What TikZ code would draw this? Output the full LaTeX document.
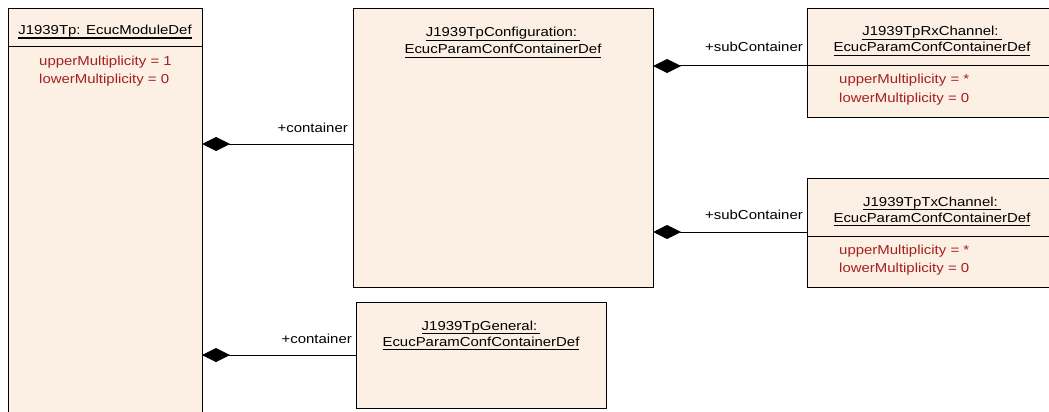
\documentclass[tikz,border=0pt]{standalone}
\usepackage{fontspec}
\setmainfont{Liberation Sans}[FakeStretch=1.15]
\usetikzlibrary{arrows.meta}
\definecolor{boxfill}{RGB}{251,240,227}
\definecolor{attr}{RGB}{165,32,32}
\newcommand\myul[1]{\setbox0\hbox{#1}\rlap{\vrule width\wd0 height -3pt depth 4pt}\box0}
\begin{document}
\begin{tikzpicture}[x=1pt,y=-1pt, font=\fontsize{13}{17}\selectfont,
  box/.style={draw, line width=1pt, fill=boxfill, anchor=north west, inner sep=0pt, outer sep=0pt},
  ttl/.style={anchor=base, inner sep=0pt},
  att/.style={anchor=base west, inner sep=0pt, text=attr},
  role/.style={anchor=base east, inner sep=0pt},
  sep/.style={line width=1pt},
  comp/.style={line width=1pt, {Diamond[length=28pt,width=14pt]}-}]
\useasboundingbox (0,0) rectangle (1049,412);
% boxes
\node[box, minimum width=194pt, minimum height=430pt] (mod) at (8,9) {};
\node[box, minimum width=300pt, minimum height=278pt] (cfg) at (353,9) {};
\node[box, minimum width=250pt, minimum height=108pt] (rx) at (807,9) {};
\node[box, minimum width=250pt, minimum height=109pt] (tx) at (807,178) {};
\node[box, minimum width=250pt, minimum height=106pt] (gen) at (356,302) {};
% compartments
\draw[sep] (mod.west |- 0,47) -- (mod.east |- 0,47);
\draw[sep] (rx.west |- 0,66) -- (rx.east |- 0,66);
\draw[sep] (tx.west |- 0,236) -- (tx.east |- 0,236);
% texts
\node[ttl] (modt) at (105,34.5) {\myul{J1939Tp: EcucModuleDef}};
\node[att] (moda1) at (39,66) {upperMultiplicity = 1};
\node[att] (moda2) at (39,83) {lowerMultiplicity = 0};
\node[ttl] (cfgt1) at (503,37) {\myul{J1939TpConfiguration:\kern3pt}};
\node[ttl] (cfgt2) at (503,54) {\myul{EcucParamConfContainerDef}};
\node[ttl] (rxt1) at (932,36) {\myul{J1939TpRxChannel:\kern3pt}};
\node[ttl] (rxt2) at (932,52) {\myul{EcucParamConfContainerDef}};
\node[att] (rxa1) at (839,84) {upperMultiplicity = *};
\node[att] (rxa2) at (839,102) {lowerMultiplicity = 0};
\node[ttl] (txt1) at (932,206) {\myul{J1939TpTxChannel:\kern3pt}};
\node[ttl] (txt2) at (932,222) {\myul{EcucParamConfContainerDef}};
\node[att] (txa1) at (839,254) {upperMultiplicity = *};
\node[att] (txa2) at (839,272) {lowerMultiplicity = 0};
\node[ttl] (gent1) at (481,330) {\myul{J1939TpGeneral:\kern3pt}};
\node[ttl] (gent2) at (481,346) {\myul{EcucParamConfContainerDef}};
% connectors
\draw[comp] (mod.east |- 0,144) -- (cfg.west |- 0,144);
\node[role] (r1) at (348,132) {+container};
\draw[comp] (cfg.east |- 0,66) -- (rx.west |- 0,66);
\node[role] (r2) at (803,52) {+subContainer};
\draw[comp] (cfg.east |- 0,232) -- (tx.west |- 0,232);
\node[role] (r3) at (803,219) {+subContainer};
\draw[comp] (mod.east |- 0,355) -- (gen.west |- 0,355);
\node[role] (r4) at (352,343) {+container};
\end{tikzpicture}
\end{document}
